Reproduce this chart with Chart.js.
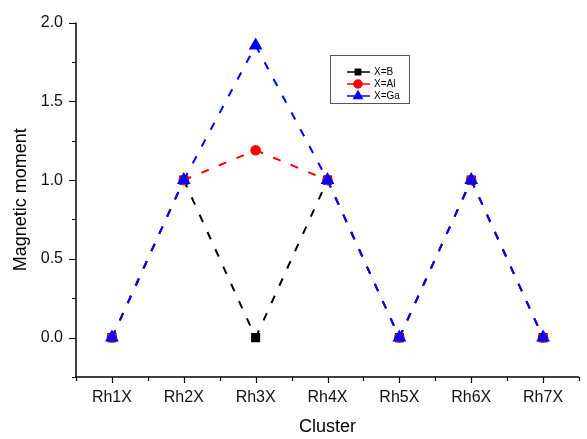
<!DOCTYPE html>
<html>
<head>
<meta charset="utf-8">
<script src="https://cdn.jsdelivr.net/npm/chart.js@4.4.1/dist/chart.umd.min.js"></script>
<style>
  html, body { margin: 0; padding: 0; background: #fff; }
  #wrap { width: 587px; height: 439px; }
</style>
</head>
<body>
<div id="wrap"><canvas id="momentChart" width="587" height="439"></canvas></div>
<script>
// 数据
const clusters = ['Rh1X', 'Rh2X', 'Rh3X', 'Rh4X', 'Rh5X', 'Rh6X', 'Rh7X'];
const momentB = [0, 1, 0, 1, 0, 1, 0];
const momentAl = [0, 1, 1.19, 1, 0, 1, 0];
const momentGa = [0, 1, 1.855, 1, 0, 1, 0];
const yTicks = [0, 0.5, 1.0, 1.5, 2.0];
const yMinorTicks = [-0.25, 0.25, 0.75, 1.25, 1.75];

const FONT = 'Arial, "Liberation Sans", sans-serif';
const DASH = [8, 11];

// 每段虚线从数据点重新开始（重叠的线段虚线对齐）
const segmentStyle = {
    borderDashOffset: ctx => ctx.p0DataIndex * (DASH[0] + DASH[1])
};

// 坐标轴、刻度、图例手动画
const axesPlugin = {
    id: 'originAxes',
    afterDraw(chart) {
        const c = chart.ctx;
        const a = chart.chartArea;
        const xs = chart.scales.x;
        const ys = chart.scales.y;
        c.save();
        c.strokeStyle = '#000';
        c.lineWidth = 1.5;
        c.beginPath();
        c.moveTo(a.left, a.top);
        c.lineTo(a.left, a.bottom);
        c.lineTo(a.right, a.bottom);
        c.stroke();
        c.lineWidth = 1.2;
        c.beginPath();
        yTicks.forEach(v => {
            const y = Math.round(ys.getPixelForValue(v)) + 0.5;
            c.moveTo(a.left - 7, y); c.lineTo(a.left, y);
        });
        yMinorTicks.forEach(v => {
            const y = Math.round(ys.getPixelForValue(v)) + 0.5;
            c.moveTo(a.left - 4, y); c.lineTo(a.left, y);
        });
        clusters.forEach((_, i) => {
            const x = Math.round(xs.getPixelForValue(i)) + 0.5;
            c.moveTo(x, a.bottom); c.lineTo(x, a.bottom + 6);
        });
        for (let i = 0; i <= clusters.length; i++) {
            const x = Math.round(xs.getPixelForValue(i - 0.5)) + 0.5;
            c.moveTo(x, a.bottom); c.lineTo(x, a.bottom + 4);
        }
        c.stroke();

        // 图例
        const bx = 330, by = 55, bw = 79, bh = 48;
        c.lineWidth = 1;
        c.strokeStyle = '#555';
        c.strokeRect(bx + 0.5, by + 0.5, bw, bh);
        c.font = '10px ' + FONT;
        c.textBaseline = 'middle';
        c.textAlign = 'left';
        const rows = [72, 84, 96];
        const legendRadius = [3.8, 4, 4.8];
        chart.data.datasets.slice().reverse().forEach((ds, i) => {
            const y = rows[i];
            c.strokeStyle = ds.borderColor;
            c.lineWidth = 1.5;
            c.setLineDash([]);
            c.beginPath();
            c.moveTo(347, y); c.lineTo(370, y);
            c.stroke();
            c.fillStyle = ds.pointBackgroundColor;
            Chart.helpers.drawPoint(c, {
                pointStyle: ds.pointStyle,
                radius: legendRadius[i],
                borderWidth: 1,
                rotation: 0
            }, 358, y);
            c.fillStyle = '#000';
            c.fillText(ds.label, 374, y + 0.5);
        });
        c.restore();
    }
};

new Chart(document.getElementById('momentChart').getContext('2d'), {
    type: 'line',
    data: {
        labels: clusters,
        datasets: [
            {
                label: 'X=Ga',
                data: momentGa,
                borderColor: '#0000ff',
                pointBackgroundColor: '#0000ff',
                pointBorderColor: '#0000ff',
                pointStyle: 'triangle',
                pointRadius: 6,
                borderWidth: 2,
                borderDash: DASH,
                segment: segmentStyle,
                order: 1
            },
            {
                label: 'X=Al',
                data: momentAl,
                borderColor: '#ff0000',
                pointBackgroundColor: '#ff0000',
                pointBorderColor: '#ff0000',
                pointStyle: 'circle',
                pointRadius: 4.3,
                borderWidth: 2,
                borderDash: DASH,
                segment: segmentStyle,
                order: 2
            },
            {
                label: 'X=B',
                data: momentB,
                borderColor: '#000000',
                pointBackgroundColor: '#000000',
                pointBorderColor: '#000000',
                pointStyle: 'rect',
                pointRadius: 5,
                borderWidth: 2,
                borderDash: DASH,
                segment: segmentStyle,
                order: 3
            }
        ]
    },
    options: {
        responsive: false,
        animation: false,
        layout: { padding: { left: 0, right: 7, top: 18, bottom: 0 } },
        plugins: {
            legend: { display: false },
            tooltip: { enabled: false }
        },
        scales: {
            x: {
                type: 'category',
                offset: true,
                grid: { display: false, drawTicks: false },
                border: { display: false },
                ticks: { color: '#111', font: { family: FONT, size: 16 }, padding: 11, maxRotation: 0 },
                title: { display: true, text: 'Cluster', color: '#000', font: { family: FONT, size: 18 }, padding: { top: 4, bottom: 1 } },
                afterFit(scale) { scale.height = 62; }
            },
            y: {
                min: -0.25,
                max: 2.0,
                afterBuildTicks(scale) { scale.ticks = yTicks.map(v => ({ value: v })); },
                grid: { display: false, drawTicks: false },
                border: { display: false },
                ticks: {
                    color: '#111',
                    font: { family: FONT, size: 16 },
                    padding: 13,
                    callback: v => v.toFixed(1)
                },
                title: { display: true, text: 'Magnetic moment', color: '#000', font: { family: FONT, size: 18 }, padding: { top: 10, bottom: 2 } },
                afterFit(scale) { scale.width = 76; }
            }
        }
    },
    plugins: [axesPlugin]
});
</script>
</body>
</html>
